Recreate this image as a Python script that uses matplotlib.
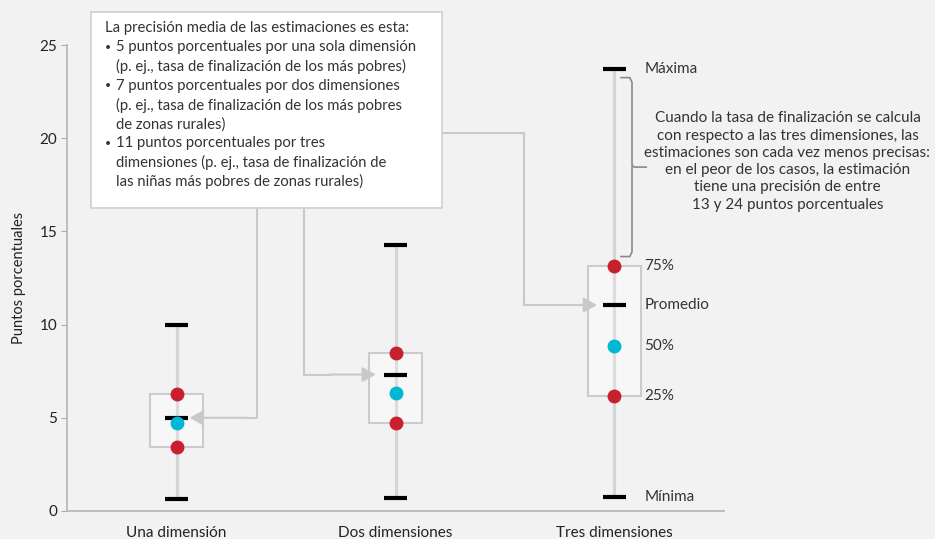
import matplotlib.pyplot as plt
from matplotlib.patches import Rectangle

plt.rcParams['font.family'] = ['Lato', 'DejaVu Sans']

# Datos (puntos porcentuales)
categories = ["Una dimensión", "Dos dimensiones", "Tres dimensiones"]
minimum = [0.65, 0.7, 0.75]
q25 = [3.45, 4.7, 6.15]
median = [4.72, 6.33, 8.85]
mean = [5.0, 7.32, 11.05]
q75 = [6.3, 8.48, 13.15]
maximum = [10.0, 14.27, 23.7]

yticks = [0, 5, 10, 15, 20, 25]

# (texto, sangría, viñeta)
note_lines = [
    ("La precisión media de las estimaciones es esta:", 0, False),
    ("5 puntos porcentuales por una sola dimensión", 1, True),
    ("(p. ej., tasa de finalización de los más pobres)", 1, False),
    ("7 puntos porcentuales por dos dimensiones", 1, True),
    ("(p. ej., tasa de finalización de los más pobres", 1, False),
    ("de zonas rurales)", 1, False),
    ("11 puntos porcentuales por tres", 1, True),
    ("dimensiones (p. ej., tasa de finalización de", 1, False),
    ("las niñas más pobres de zonas rurales)", 1, False),
]
brace_text = ("Cuando la tasa de finalización se calcula\n"
              "con respecto a las tres dimensiones, las\n"
              "estimaciones son cada vez menos precisas:\n"
              "en el peor de los casos, la estimación\n"
              "tiene una precisión de entre\n"
              "13 y 24 puntos porcentuales")

BG = '#f2f2f2'
RED = '#c8202f'
CYAN = '#00b8d4'
GREY = '#c9c9c9'
TXT = '#333333'

fig = plt.figure(figsize=(9.35, 5.39), dpi=100, facecolor=BG)
ax = fig.add_axes([0.0717, 0.052, 0.7026, 0.8645], facecolor=BG)

x = list(range(len(categories)))
for i in x:
    # bigote
    ax.plot([i, i], [minimum[i], maximum[i]], color='#d6d6d6', lw=2.3, zorder=1,
            solid_capstyle='butt')
    # caja
    ax.add_patch(Rectangle((i - 0.12, q25[i]), 0.24, q75[i] - q25[i],
                           facecolor='#f7f7f7', edgecolor='#cccccc', lw=1.5, zorder=2))
    ax.plot([i, i], [q25[i], q75[i]], color='#dddddd', lw=2.3, zorder=2.5)
    # extremos y promedio
    for v in (minimum[i], maximum[i], mean[i]):
        ax.plot([i - 0.052, i + 0.052], [v, v], color='black', lw=3, zorder=4,
                solid_capstyle='butt')
    ax.plot([i, i], [q25[i], q75[i]], 'o', color=RED, ms=9, zorder=5)
    ax.plot(i, median[i], 'o', color=CYAN, ms=9, zorder=5)

ax.set_xlim(-0.5, 2.5)
ax.set_ylim(0, 25)
ax.set_yticks(yticks)
ax.set_xticks(x)
ax.set_xticklabels(categories, fontsize=11, color='#222222')
ax.tick_params(axis='x', length=0, pad=11)
ax.tick_params(axis='y', length=4, color='#aaaaaa', labelsize=11, labelcolor='#222222', pad=3)
for s in ('top', 'right'):
    ax.spines[s].set_visible(False)
for s in ('left', 'bottom'):
    ax.spines[s].set_color('#b5b5b5')
    ax.spines[s].set_linewidth(1.2)
ax.set_ylabel("Puntos porcentuales", fontsize=10.5, color='#222222', labelpad=10)

# etiquetas de la tercera caja
lx = 2.137
labels3 = [("Máxima", maximum[2]), ("75%", q75[2]), ("Promedio", mean[2]),
           ("50%", median[2]), ("25%", q25[2]), ("Mínima", minimum[2])]
for t, v in labels3:
    ax.text(lx, v, t, fontsize=11, color=TXT, va='center', ha='left')

# llave
bx0, bx1, bx2 = 2.03, 2.08, 2.145
ytop, ybot, ymid = 23.25, 13.65, 18.45
ax.plot([bx0, bx1 - 0.01, bx1, bx1, bx1 + 0.01, bx2], [ytop, ytop, ytop - 0.25, ymid + 0.1, ymid, ymid],
        color='#8a8a8a', lw=1.2, clip_on=False)
ax.plot([bx0, bx1 - 0.01, bx1, bx1], [ybot, ybot, ybot + 0.25, ymid],
        color='#8a8a8a', lw=1.2, clip_on=False)
ax.text(2.79, 18.75, brace_text, fontsize=11, color=TXT, ha='center', va='center',
        linespacing=1.3, clip_on=False)

# conectores desde el cuadro de texto
arrow_kw = dict(arrowstyle='-|>,head_length=0.8,head_width=0.45', color=GREY, lw=1.5,
                shrinkA=0, shrinkB=0)
ax.plot([0.366, 0.366, 0.32], [16.3, mean[0], mean[0]], color=GREY, lw=1.5, zorder=0.5)
ax.annotate('', xy=(0.06, mean[0]), xytext=(0.32, mean[0]), arrowprops=arrow_kw, zorder=3)
ax.plot([0.581, 0.581, 0.7], [16.3, mean[1], mean[1]], color=GREY, lw=1.5, zorder=0.5)
ax.annotate('', xy=(0.91, mean[1]), xytext=(0.7, mean[1]), arrowprops=arrow_kw, zorder=3)
ax.plot([1.2, 1.588, 1.588, 1.7], [20.28, 20.28, mean[2], mean[2]], color=GREY, lw=1.5, zorder=0.5)
ax.annotate('', xy=(1.92, mean[2]), xytext=(1.7, mean[2]), arrowprops=arrow_kw, zorder=3)

# cuadro de texto
ax.add_patch(Rectangle((-0.389, 16.26), 1.602, 10.5, facecolor='white',
                       edgecolor='#d0d0d0', lw=1.2, zorder=6, clip_on=False))
for k, (t, indent, bullet) in enumerate(note_lines):
    yy = 25.9 - 1.03 * k
    ax.text(-0.325 + 0.05 * indent, yy, t, fontsize=10.7, color=TXT,
            va='center', ha='left', zorder=7, clip_on=False)
    if bullet:
        ax.text(-0.325, yy, "•", fontsize=7.5, color=TXT,
                va='center', ha='left', zorder=7, clip_on=False)

fig.savefig('out.png', dpi=100, facecolor=BG)
